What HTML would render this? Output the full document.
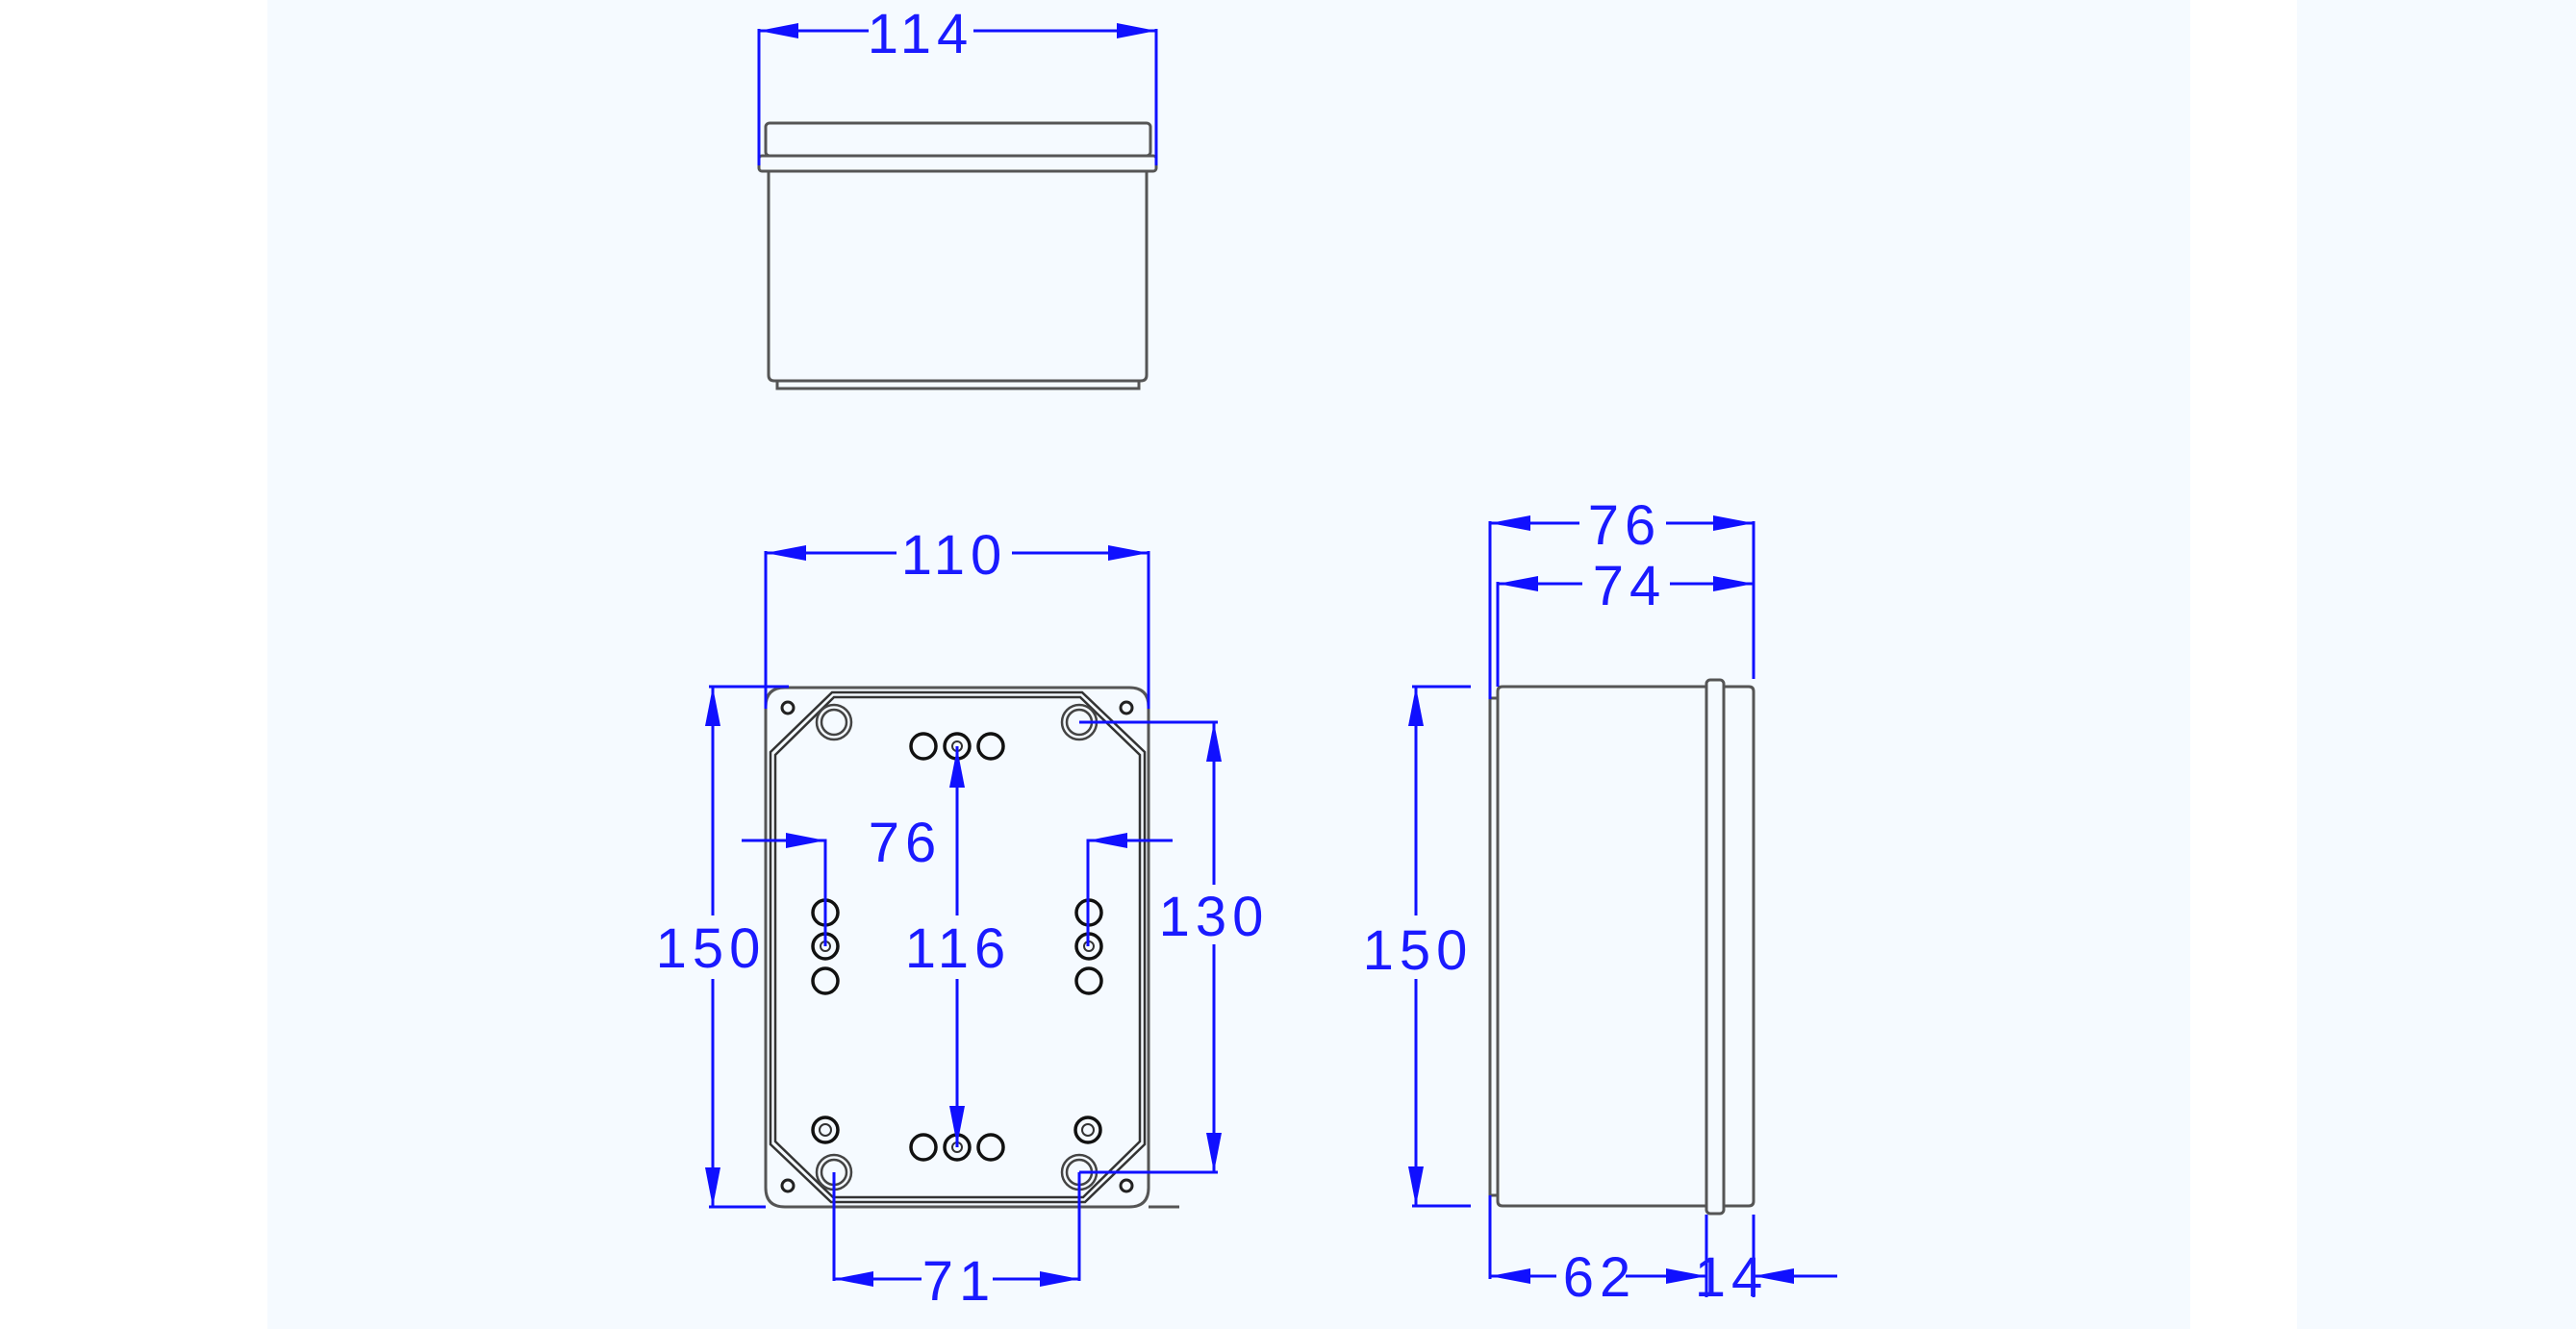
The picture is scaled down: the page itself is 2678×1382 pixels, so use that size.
<!DOCTYPE html>
<html><head><meta charset="utf-8"><style>
html,body{margin:0;padding:0;background:#fff;}
svg{display:block;}
text{font-family:"Liberation Sans",sans-serif;font-size:58px;fill:#1a1aff;letter-spacing:6px;}
</style></head><body>
<svg width="2678" height="1382" viewBox="0 0 2678 1382" xmlns="http://www.w3.org/2000/svg">
<rect x="0" y="0" width="2678" height="1382" fill="#ffffff"/>
<rect x="278" y="0" width="1999" height="1382" fill="#f5faff"/>
<rect x="2388" y="0" width="290" height="1382" fill="#f5faff"/>

<!-- ===== TOP VIEW ===== -->
<g fill="none" stroke="#555" stroke-width="3">
<rect x="796" y="128" width="400" height="34" rx="4"/>
<rect x="789" y="162" width="413" height="16" rx="3"/>
<path d="M799 178 V390 Q799 396 805 396 H1186 Q1192 396 1192 390 V178"/>
<rect x="808" y="396" width="376" height="8"/>
</g>
<g stroke="#1010ff" stroke-width="3" fill="none">
<line x1="789" y1="30" x2="789" y2="172"/>
<line x1="1202" y1="30" x2="1202" y2="172"/>
<line x1="789" y1="32" x2="903" y2="32"/>
<line x1="1012" y1="32" x2="1202" y2="32"/>
</g>
<g fill="#1010ff">
<polygon points="789,32 830,24 830,40"/>
<polygon points="1202,32 1161,24 1161,40"/>
</g>
<text x="957" y="55" text-anchor="middle">114</text>

<!-- ===== FRONT VIEW ===== -->
<g fill="none" stroke="#555" stroke-width="3">
<path d="M816 715 H1174 Q1194 715 1194 735 V1235 Q1194 1255 1174 1255 H816 Q796 1255 796 1235 V735 Q796 715 816 715 Z"/>
<line x1="1194" y1="1255" x2="1226" y2="1255"/>
</g>
<g fill="none" stroke="#333" stroke-width="2.5">
<path d="M865 720 H1125 L1190 782 V1190 L1128 1250 H864 L801 1190 V782 Z"/>
<path d="M867 725 H1123 L1185 785 V1187 L1126 1245 H866 L806 1187 V785 Z"/>
</g>
<g fill="none" stroke="#222" stroke-width="3">
<circle cx="819" cy="736" r="6"/><circle cx="1171" cy="736" r="6"/>
<circle cx="819" cy="1233" r="6"/><circle cx="1171" cy="1233" r="6"/>
</g>
<g fill="none" stroke="#444" stroke-width="2.5">
<circle cx="867" cy="751" r="18"/><circle cx="867" cy="751" r="13"/>
<circle cx="1122" cy="751" r="18"/><circle cx="1122" cy="751" r="13"/>
<circle cx="867" cy="1219" r="18"/><circle cx="867" cy="1219" r="13"/>
<circle cx="1122" cy="1219" r="18"/><circle cx="1122" cy="1219" r="13"/>
</g>
<g fill="none" stroke="#111" stroke-width="3.5">
<circle cx="960" cy="776" r="13"/><circle cx="995" cy="776" r="13"/><circle cx="1030" cy="776" r="13"/>
<circle cx="960" cy="1193" r="13"/><circle cx="995" cy="1193" r="13"/><circle cx="1030" cy="1193" r="13"/>
<circle cx="858" cy="949" r="13"/><circle cx="858" cy="984" r="13"/><circle cx="858" cy="1020" r="13"/>
<circle cx="1132" cy="949" r="13"/><circle cx="1132" cy="984" r="13"/><circle cx="1132" cy="1020" r="13"/>
<circle cx="858" cy="1175" r="13"/><circle cx="1131" cy="1175" r="13"/>
</g>
<g fill="none" stroke="#333" stroke-width="2">
<circle cx="995" cy="776" r="5"/><circle cx="995" cy="1193" r="5"/>
<circle cx="858" cy="984" r="5"/><circle cx="1132" cy="984" r="5"/>
<circle cx="858" cy="1175" r="6"/><circle cx="1131" cy="1175" r="6"/>
</g>

<g stroke="#1010ff" stroke-width="3" fill="none">
<!-- 110 -->
<line x1="796" y1="573" x2="796" y2="737"/>
<line x1="1194" y1="573" x2="1194" y2="737"/>
<line x1="796" y1="575" x2="932" y2="575"/>
<line x1="1052" y1="575" x2="1194" y2="575"/>
<!-- 150 left -->
<line x1="737" y1="714" x2="820" y2="714"/>
<line x1="737" y1="1255" x2="796" y2="1255"/>
<line x1="741" y1="714" x2="741" y2="952"/>
<line x1="741" y1="1018" x2="741" y2="1255"/>
<!-- 76 leaders -->
<polyline points="771,874 858,874 858,984"/>
<polyline points="1219,874 1131,874 1131,984"/>
<!-- 116 -->
<line x1="995" y1="776" x2="995" y2="952"/>
<line x1="995" y1="1018" x2="995" y2="1193"/>
<!-- 130 -->
<line x1="1122" y1="751" x2="1266" y2="751"/>
<line x1="1122" y1="1219" x2="1266" y2="1219"/>
<line x1="1262" y1="751" x2="1262" y2="920"/>
<line x1="1262" y1="982" x2="1262" y2="1219"/>
<!-- 71 -->
<line x1="867" y1="1219" x2="867" y2="1332"/>
<line x1="1122" y1="1219" x2="1122" y2="1332"/>
<line x1="867" y1="1330" x2="958" y2="1330"/>
<line x1="1032" y1="1330" x2="1122" y2="1330"/>
</g>
<g fill="#1010ff">
<polygon points="796,575 838,567 838,583"/>
<polygon points="1194,575 1152,567 1152,583"/>
<polygon points="741,714 733,755 749,755"/>
<polygon points="741,1255 733,1214 749,1214"/>
<polygon points="858,874 817,866 817,882"/>
<polygon points="1131,874 1172,866 1172,882"/>
<polygon points="995,778 987,819 1003,819"/>
<polygon points="995,1191 987,1150 1003,1150"/>
<polygon points="1262,751 1254,792 1270,792"/>
<polygon points="1262,1219 1254,1178 1270,1178"/>
<polygon points="867,1330 908,1322 908,1338"/>
<polygon points="1122,1330 1081,1322 1081,1338"/>
</g>
<text x="992" y="597" text-anchor="middle">110</text>
<text x="739" y="1006" text-anchor="middle">150</text>
<text x="941" y="896" text-anchor="middle">76</text>
<text x="996" y="1006" text-anchor="middle">116</text>
<text x="1262" y="973" text-anchor="middle">130</text>
<text x="997" y="1352" text-anchor="middle">71</text>

<!-- ===== SIDE VIEW ===== -->
<g fill="none" stroke="#555" stroke-width="3">
<path d="M1557 726 V1243"/>
<path d="M1549 726 H1557 M1549 726 V1243 H1557"/>
<path d="M1562 714 H1774 V1254 H1562 Q1557 1254 1557 1249 V719 Q1557 714 1562 714 Z"/>
<rect x="1774" y="707" width="18" height="555" rx="4"/>
<path d="M1792 714 H1818 Q1823 714 1823 719 V1249 Q1823 1254 1818 1254 H1792"/>
</g>
<g stroke="#1010ff" stroke-width="3" fill="none">
<!-- 76 -->
<line x1="1549" y1="542" x2="1549" y2="727"/>
<line x1="1823" y1="542" x2="1823" y2="706"/>
<line x1="1549" y1="544" x2="1642" y2="544"/>
<line x1="1732" y1="544" x2="1823" y2="544"/>
<!-- 74 -->
<line x1="1557" y1="605" x2="1557" y2="714"/>
<line x1="1557" y1="607" x2="1645" y2="607"/>
<line x1="1736" y1="607" x2="1823" y2="607"/>
<!-- 150 -->
<line x1="1468" y1="714" x2="1529" y2="714"/>
<line x1="1468" y1="1254" x2="1529" y2="1254"/>
<line x1="1472" y1="714" x2="1472" y2="952"/>
<line x1="1472" y1="1018" x2="1472" y2="1254"/>
<!-- 62 / 14 -->
<line x1="1549" y1="1243" x2="1549" y2="1330"/>
<line x1="1549" y1="1327" x2="1618" y2="1327"/>
<line x1="1690" y1="1327" x2="1774" y2="1327"/>
<line x1="1774" y1="1263" x2="1774" y2="1349"/>
<line x1="1823" y1="1263" x2="1823" y2="1349"/>
<line x1="1823" y1="1327" x2="1910" y2="1327"/>
</g>
<g fill="#1010ff">
<polygon points="1549,544 1591,536 1591,552"/>
<polygon points="1823,544 1781,536 1781,552"/>
<polygon points="1557,607 1599,599 1599,615"/>
<polygon points="1823,607 1781,599 1781,615"/>
<polygon points="1472,714 1464,755 1480,755"/>
<polygon points="1472,1254 1464,1213 1480,1213"/>
<polygon points="1549,1327 1591,1319 1591,1335"/>
<polygon points="1774,1327 1732,1319 1732,1335"/>
<polygon points="1823,1327 1865,1319 1865,1335"/>
</g>
<text x="1689" y="566" text-anchor="middle">76</text>
<text x="1694" y="629" text-anchor="middle">74</text>
<text x="1474" y="1008" text-anchor="middle">150</text>
<text x="1663" y="1348" text-anchor="middle">62</text>
<text x="1800" y="1348" text-anchor="middle">14</text>
</svg>
</body></html>
